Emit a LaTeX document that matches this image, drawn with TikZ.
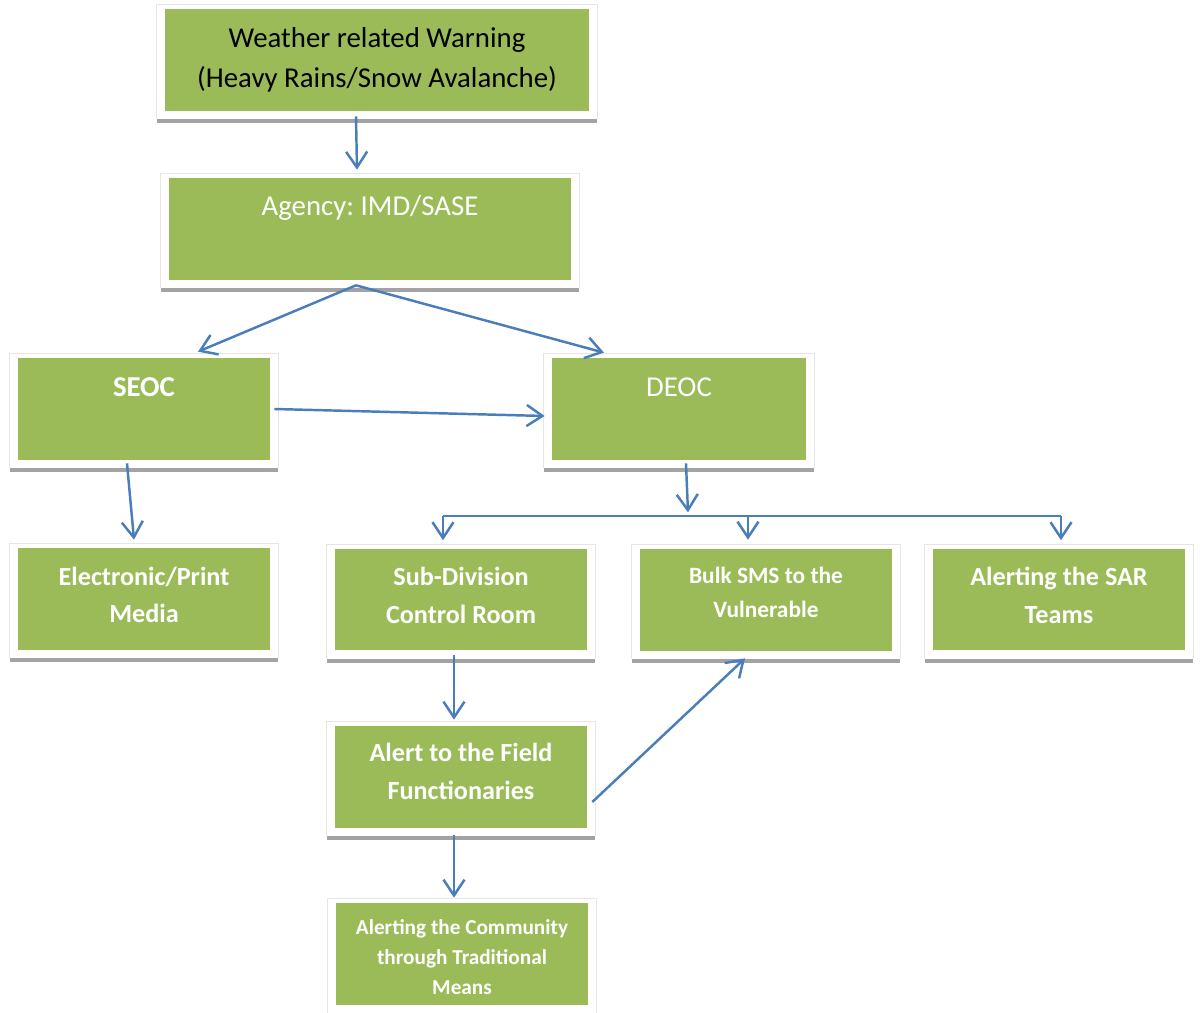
\documentclass[tikz,border=0pt]{standalone}
\usepackage{fontspec}
\setmainfont{Carlito}
\frenchspacing
\usetikzlibrary{arrows.meta,backgrounds}
\definecolor{boxgreen}{HTML}{9BBB59}
\definecolor{arrblue}{HTML}{4A7EBB}
\definecolor{shadowgray}{HTML}{A3A3A3}
\definecolor{framegray}{HTML}{E6E6E6}
\tikzset{
  box/.style={rectangle, fill=boxgreen, minimum width=5.04cm, minimum height=2.04cm,
    align=center, text=white, inner sep=0pt},
  bigtext/.style={font=\fontsize{16.4}{22.7}\selectfont},
  boldtext/.style={font=\bfseries\fontsize{14.9}{21.5}\selectfont},
  smalltext/.style={font=\bfseries\fontsize{13.3}{19.3}\selectfont},
  tinytext/.style={font=\bfseries\fontsize{12.1}{17}\selectfont},
  toptext/.style={anchor=center, yshift=-17pt, text=white},
  midtext/.style={anchor=center, align=center, text=white},
  arr/.style={draw=arrblue, line width=1.4pt,
    -{Straight Barb[length=9pt,width=12pt,line width=1.4pt]}},
}
\begin{document}
\begin{tikzpicture}[x=0.02cm, y=-0.02cm]
\useasboundingbox (0,0) rectangle (1200,1013);
% boxes
\node[box, bigtext, minimum width=8.48cm, text=black] (warn) at (377,60)
  {Weather related Warning\\(Heavy Rains/Snow Avalanche)};
\node[box, minimum width=8.04cm, label={[toptext, bigtext]north:{Agency: IMD/SASE}}] (agency) at (370,229) {};
\node[box, label={[toptext, font=\bfseries\fontsize{16.4}{22.7}\selectfont]north:SEOC}] (seoc) at (144,409) {};
\node[box, minimum width=5.08cm, label={[toptext, bigtext]north:DEOC}] (deoc) at (679,409) {};
\node[box, label={[midtext, boldtext, yshift=2.3pt]center:{Electronic/Print\\Media}}] (media) at (144,599) {};
\node[box, label={[midtext, boldtext, yshift=2.3pt]center:{Sub-Division\\Control Room}}] (subdiv) at (461,599.5) {};
\node[box, label={[midtext, smalltext, yshift=4.5pt]center:{Bulk SMS to the\\Vulnerable}}] (bulk) at (766,600) {};
\node[box, label={[midtext, boldtext, yshift=2.3pt]center:{Alerting the SAR\\Teams}}] (sar) at (1059,599.5) {};
\node[box, label={[midtext, boldtext, yshift=3.4pt]center:{Alert to the Field\\Functionaries}}] (field) at (461,777) {};
\node[box, label={[midtext, tinytext, yshift=-1.7pt]center:{Alerting the Community\\through Traditional\\Means}}] (comm) at (462,954) {};
% white frames with grey bottom edge
\begin{pgfonlayer}{background}
\foreach \n in {warn,agency,seoc,deoc,media,subdiv,bulk,sar,field,comm} {
  \path[draw=framegray, line width=0.6pt] ([shift={(-8,8)}]\n.south west) -- ([shift={(-8,-4)}]\n.north west)
    -- ([shift={(8,-4)}]\n.north east) -- ([shift={(8,8)}]\n.south east);
  \path[fill=shadowgray] ([shift={(-8,8)}]\n.south west) rectangle ([shift={(8,12)}]\n.south east);
}
\end{pgfonlayer}
% bus below DEOC
\coordinate (busL) at (443,516);
\coordinate (busM) at (748,516);
\coordinate (busR) at (1061,516);
\path[draw=arrblue, line width=1.4pt] (busL) -- (busR);
% arrows
\path[draw,arr] ([shift={(-21,5)}]warn.south) -- ([shift={(-13,-8)}]agency.north);
\path[draw,arr] ([shift={(-14,5)}]agency.south) -- ([shift={(54,-6)}]seoc.north);
\path[draw,arr] ([shift={(-14,5)}]agency.south) -- ([shift={(-75,-5)}]deoc.north);
\path[draw,arr] ([shift={(4,0)}]seoc.east) -- ([shift={(-7,7)}]deoc.west);
\path[draw,arr] ([shift={(-17,3)}]seoc.south) -- ([shift={(-10,-8)}]media.north);
\path[draw,arr] ([shift={(7,3)}]deoc.south) -- ([shift={(9,52)}]deoc.south);
\path[draw,arr] (busL) -- ([shift={(-18,-8)}]subdiv.north);
\path[draw,arr] (busM) -- ([shift={(-18,-9)}]bulk.north);
\path[draw,arr] (busR) -- ([shift={(2,-8)}]sar.north);
\path[draw,arr] ([shift={(-7,4)}]subdiv.south) -- ([shift={(-7,-6)}]field.north);
\path[draw,arr] ([shift={(5,25)}]field.east) -- ([shift={(-21,7)}]bulk.south);
\path[draw,arr] ([shift={(-7,7)}]field.south) -- ([shift={(-8,-5)}]comm.north);
\end{tikzpicture}
\end{document}
